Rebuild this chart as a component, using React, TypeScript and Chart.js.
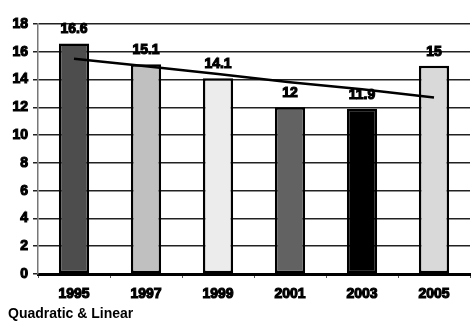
import React, { useEffect, useRef } from "react";
import { Chart, registerables } from "chart.js";

Chart.register(...registerables);

const categories = ["1995", "1997", "1999", "2001", "2003", "2005"];
const values = [16.6, 15.1, 14.1, 12, 11.9, 15];
const valueLabels = ["16.6", "15.1", "14.1", "12", "11.9", "15"];
const trendValues = [15.5, 14.95, 14.4, 13.8, 13.3, 12.7];
const barColors = ["#4d4d4d", "#c0c0c0", "#ececec", "#626262", "#000000", "#d9d9d9"];
const yTicks = [0, 2, 4, 6, 8, 10, 12, 14, 16, 18];
const footerText = "Quadratic & Linear";

const FONT = "'Liberation Sans', Arial, sans-serif";

export default function App() {
  const ref = useRef<HTMLCanvasElement | null>(null);

  useEffect(() => {
    const canvas = ref.current;
    if (!canvas) return;

    const labelsPlugin = {
      id: "extras",
      afterDatasetsDraw(chart: any) {
        const ctx = chart.ctx;
        const meta = chart.getDatasetMeta(1);
        ctx.save();
        ctx.font = `bold 14px ${FONT}`;
        ctx.textAlign = "center";
        ctx.textBaseline = "alphabetic";
        ctx.fillStyle = "#000";
        ctx.strokeStyle = "#000";
        ctx.lineWidth = 1.1;
        meta.data.forEach((el: any, i: number) => {
          const x = el.x;
          const y = el.y - 10;
          ctx.strokeText(valueLabels[i], x, y);
          ctx.fillText(valueLabels[i], x, y);
        });
        ctx.restore();
      },
      afterDraw(chart: any) {
        const ctx = chart.ctx;
        ctx.save();
        ctx.font = `bold 14px ${FONT}`;
        ctx.textAlign = "left";
        ctx.textBaseline = "alphabetic";
        ctx.fillStyle = "#000";
        ctx.fillText(footerText, 8, 318);
        ctx.restore();
      },
    };

    const chart = new Chart(canvas, {
      type: "bar",
      data: {
        labels: categories,
        datasets: [
          {
            type: "line" as any,
            label: "Trend",
            data: trendValues,
            borderColor: "#000",
            borderWidth: 2.5,
            pointRadius: 0,
            fill: false,
            order: 0,
            tension: 0,
          },
          {
            type: "bar" as any,
            label: "Values",
            data: values,
            backgroundColor: barColors,
            borderColor: "#000",
            borderWidth: 2.5,
            borderSkipped: false,
            barPercentage: 0.42,
            categoryPercentage: 1,
            order: 1,
          },
        ],
      },
      options: {
        responsive: false,
        animation: false,
        maintainAspectRatio: false,
        layout: { padding: { left: 0, right: 4, top: 24, bottom: 0 } },
        plugins: {
          legend: { display: false },
          tooltip: { enabled: false },
          title: { display: false },
        },
        scales: {
          x: {
            offset: true,
            grid: {
              offset: true,
              drawOnChartArea: false,
              drawTicks: true,
              tickLength: 4,
              color: "#555",
              lineWidth: 1,
            },
            border: { display: true, color: "#000", width: 3 },
            ticks: {
              color: "#000",
              padding: 8,
              font: { family: FONT, size: 14, weight: "bold" },
              textStrokeColor: "#000",
              textStrokeWidth: 1.1,
            } as any,
            afterFit(scale: any) {
              scale.height = 55;
            },
          },
          y: {
            min: 0,
            max: 18,
            afterBuildTicks(scale: any) {
              scale.ticks = yTicks.map((v) => ({ value: v }));
            },
            grid: {
              color: "#222",
              lineWidth: 1.5,
              tickLength: 5,
              drawTicks: true,
            },
            border: { display: true, color: "#777", width: 1.5 },
            ticks: {
              color: "#000",
              padding: 5,
              font: { family: FONT, size: 14, weight: "bold" },
              textStrokeColor: "#000",
              textStrokeWidth: 1.1,
            } as any,
            afterFit(scale: any) {
              scale.width = 38;
            },
          },
        },
      },
      plugins: [labelsPlugin],
    } as any);

    return () => chart.destroy();
  }, []);

  return (
    <div style={{ position: "absolute", left: 0, top: 0, width: 474, height: 329, background: "#fff" }}>
      <canvas ref={ref} width={474} height={329} style={{ width: 474, height: 329, display: "block" }} />
    </div>
  );
}
